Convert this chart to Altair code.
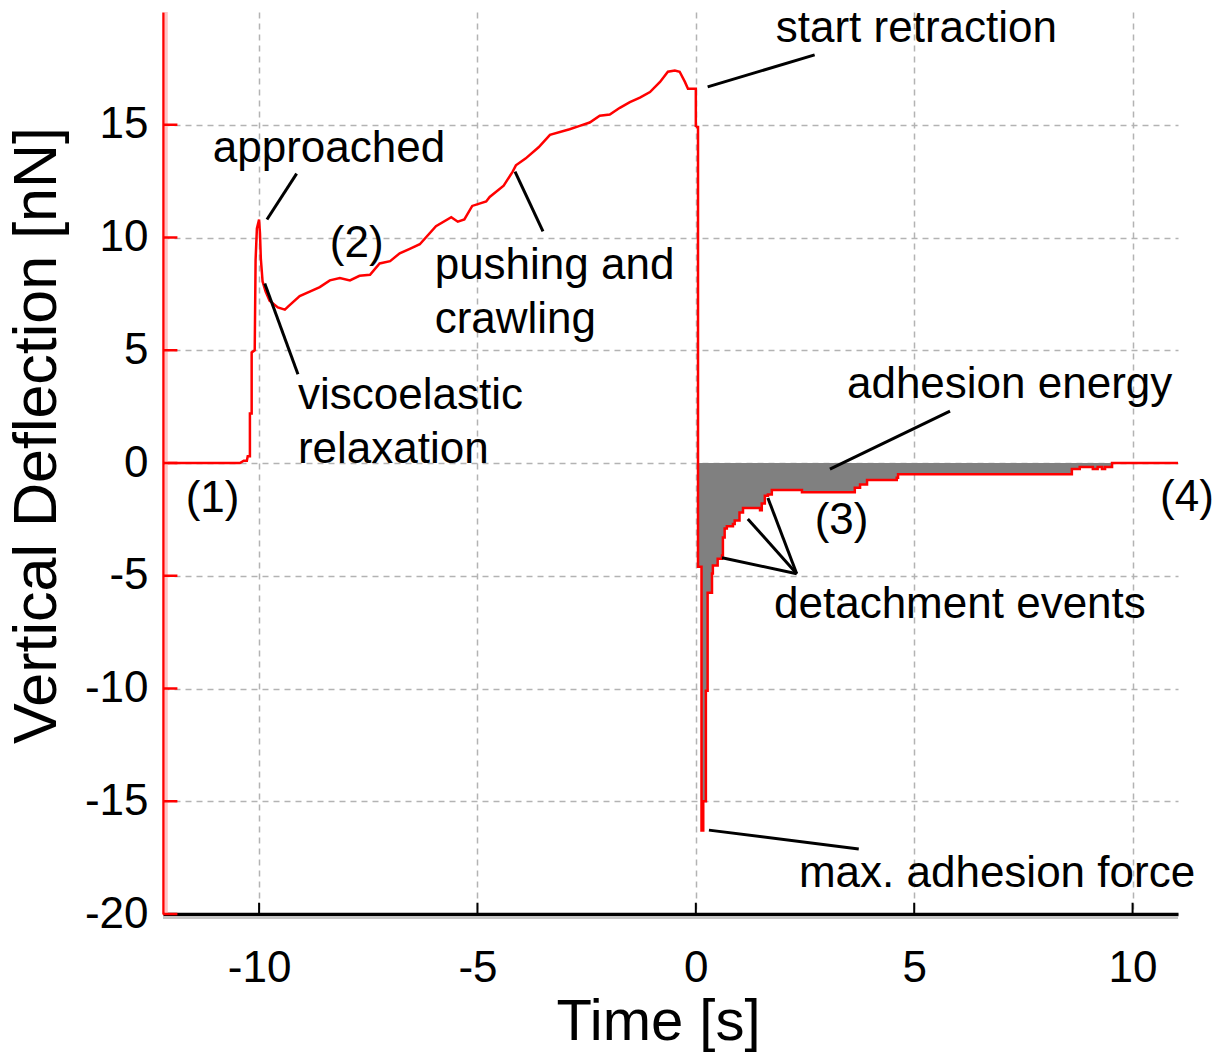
import altair as alt
import pandas as pd

FONT = "Liberation Sans"

# approach / contact part of the trace (time [s], deflection [nN])
approach_t = [-12.2, -10.44, -10.35, -10.28, -10.26, -10.21, -10.21, -10.17, -10.17, -10.1,
              -10.08, -10.05, -10.0, -9.98, -9.96, -9.92, -9.85, -9.76, -9.57, -9.41,
              -9.3, -9.07, -8.84, -8.61, -8.38, -8.15, -7.92, -7.7, -7.46, -7.24,
              -7.0, -6.78, -6.55, -6.32, -5.95, -5.6, -5.45, -5.3, -5.12, -4.8,
              -4.72, -4.4, -4.2, -4.12, -3.9, -3.6, -3.34, -2.89, -2.66, -2.43,
              -2.2, -1.97, -1.74, -1.51, -1.28, -1.05, -0.82, -0.64, -0.48, -0.37,
              -0.25, -0.18, -0.02, 0.0, 0.0]
approach_f = [0.0, 0.0, 0.1, 0.1, 0.3, 0.3, 2.2, 2.2, 4.9, 5.0,
              9.0, 10.4, 10.8, 10.2, 9.07, 8.05, 7.6, 7.2, 6.9, 6.8,
              7.0, 7.4, 7.6, 7.8, 8.1, 8.2, 8.1, 8.3, 8.35, 8.85,
              8.95, 9.3, 9.5, 9.7, 10.5, 10.9, 10.7, 10.8, 11.4, 11.6,
              11.8, 12.3, 12.9, 13.2, 13.5, 14.0, 14.55, 14.8, 14.95, 15.1,
              15.4, 15.45, 15.75, 16.0, 16.2, 16.45, 16.9, 17.35, 17.4, 17.35,
              16.9, 16.6, 16.6, 16.6, 14.9]

# retraction part (step-wise)
retract_t = [0.0, 0.05, 0.13, 0.17, 0.23, 0.27, 0.37, 0.39, 0.5, 0.6,
             0.62, 0.66, 0.71, 0.85, 0.89, 1.0, 1.08, 1.47, 1.51, 1.58,
             1.65, 1.74, 2.43, 3.64, 3.76, 3.92, 4.6, 4.63, 8.61, 8.79,
             9.09, 9.2, 9.3, 9.37, 9.53, 11.04]
retract_f = [14.9, -4.6, -16.3, -15.0, -10.1, -5.75, -4.9, -4.55, -4.25, -4.1,
             -3.3, -2.9, -2.8, -2.7, -2.55, -2.2, -2.0, -2.1, -1.8, -1.45,
             -1.4, -1.2, -1.3, -1.1, -0.95, -0.75, -0.65, -0.5, -0.27, -0.18,
             -0.27, -0.18, -0.27, -0.18, 0.0, 0.0]

x_ticks = [-10, -5, 0, 5, 10]
y_ticks = [-20, -15, -10, -5, 0, 5, 10, 15]

ann_labels = ["approached", "(2)", "pushing and", "crawling", "viscoelastic", "relaxation",
              "(1)", "start retraction", "adhesion energy", "(3)", "(4)",
              "detachment events", "max. adhesion force"]
ann_t = [-11.06, -8.38, -5.98, -5.98, -9.11, -9.11, -11.68, 1.83, 3.46, 2.72, 10.63, 1.79, 2.36]
ann_f = [13.36, 9.12, 8.14, 5.75, 2.39, 0.0, -2.17, 18.67, 2.88, -3.14, -2.12, -6.86, -18.8]

ptr_t1 = [-9.82, -9.87, -4.14, 0.27, 3.07, 2.31, 2.31, 2.31, 0.3]
ptr_f1 = [10.8, 7.96, 12.92, 16.68, -0.27, -4.91, -4.91, -4.91, -16.28]
ptr_t2 = [-9.14, -9.11, -3.5, 2.72, 5.82, 0.6, 1.19, 1.65, 3.73]
ptr_f2 = [12.83, 3.94, 10.27, 18.1, 2.3, -4.2, -2.48, -1.55, -17.12]

X_MIN, X_MAX = -12.2, 11.04
Y_MIN, Y_MAX = -20.0, 20.0

approach = pd.DataFrame({"t": approach_t, "f": approach_f, "i": range(len(approach_t))})
retract = pd.DataFrame({"t": retract_t, "f": retract_f, "i": range(len(retract_t))})
fill = pd.DataFrame({"t": retract_t[1:], "f": retract_f[1:],
                     "base": [0.0] * (len(retract_t) - 1)})
ann = pd.DataFrame({"t": ann_t, "f": ann_f, "label": ann_labels})
ptr = pd.DataFrame({"t1": ptr_t1, "f1": ptr_f1, "t2": ptr_t2, "f2": ptr_f2})
# inward tick marks (drawn inside the plot frame)
xtick_df = pd.DataFrame({"t": x_ticks, "f1": [Y_MIN] * len(x_ticks),
                         "f2": [Y_MIN + 0.5] * len(x_ticks)})
ytick_df = pd.DataFrame({"f": y_ticks, "t1": [X_MIN] * len(y_ticks),
                         "t2": [X_MIN + 0.33] * len(y_ticks)})
# soft shadows along the axis lines
xshadow = pd.DataFrame({"t1": [X_MIN], "t2": [X_MAX], "f": [Y_MIN - 0.16]})
yshadow = pd.DataFrame({"t": [X_MIN + 0.075], "f1": [Y_MIN], "f2": [Y_MAX]})

xscale = alt.Scale(domain=[X_MIN, X_MAX], nice=False, zero=False)
yscale = alt.Scale(domain=[Y_MIN, Y_MAX], nice=False, zero=False)

xaxis = alt.Axis(values=x_ticks, title="Time [s]", labelExpr="'' + datum.value",
                 domainColor="black", domainWidth=3.5, ticks=False, tickSize=0,
                 labelFont=FONT, labelFontSize=44, labelColor="black", labelPadding=32,
                 titleFont=FONT, titleFontSize=58, titleFontWeight="normal", titleColor="black",
                 titleX=495, titleY=125, titleBaseline="alphabetic", titleAlign="center",
                 grid=True, gridColor="#b3b3b3", gridDash=[6, 5], gridWidth=1.5)
yaxis = alt.Axis(values=y_ticks, title="Vertical Deflection [nN]", labelExpr="'' + datum.value",
                 domainColor="red", domainWidth=2.5, ticks=False, tickSize=0,
                 labelFont=FONT, labelFontSize=44, labelColor="black", labelPadding=15,
                 titleFont=FONT, titleFontSize=61, titleFontWeight="normal", titleColor="black",
                 titleAngle=270, titleX=-108, titleY=423, titleBaseline="alphabetic",
                 titleAlign="center",
                 grid=True, gridColor="#b3b3b3", gridDash=[6, 5], gridWidth=1.5)

area = alt.Chart(fill).mark_area(interpolate="step-after", color="#808080").encode(
    x=alt.X("t:Q", scale=xscale, axis=xaxis),
    y=alt.Y("f:Q", scale=yscale, axis=yaxis),
    y2="base:Q")

line_app = alt.Chart(approach).mark_line(color="#ff0000", strokeWidth=2.5).encode(
    x="t:Q", y="f:Q", order="i:Q")
line_ret = alt.Chart(retract).mark_line(color="#ff0000", strokeWidth=2.5,
                                        interpolate="step-after").encode(
    x="t:Q", y="f:Q", order="i:Q")

pointers = alt.Chart(ptr).mark_rule(color="black", strokeWidth=3).encode(
    x="t1:Q", y="f1:Q", x2="t2:Q", y2="f2:Q")

texts = alt.Chart(ann).mark_text(align="left", baseline="alphabetic", font=FONT,
                                 fontSize=44, color="black").encode(
    x="t:Q", y="f:Q", text="label:N")

xt = alt.Chart(xtick_df).mark_rule(color="black", strokeWidth=2).encode(
    x="t:Q", y="f1:Q", y2="f2:Q")
yt = alt.Chart(ytick_df).mark_rule(color="#ff0000", strokeWidth=2.5).encode(
    y="f:Q", x="t1:Q", x2="t2:Q")

xs = alt.Chart(xshadow).mark_rule(color="#c4c4c4", strokeWidth=3).encode(
    x="t1:Q", x2="t2:Q", y="f:Q")
ys = alt.Chart(yshadow).mark_rule(color="#ffc4c4", strokeWidth=3).encode(
    x="t:Q", y="f1:Q", y2="f2:Q")

chart = alt.layer(area, line_app, line_ret, pointers, texts, xs, ys, xt, yt).properties(
    width=1015, height=902,
    autosize=alt.AutoSizeParams(type="none"),
    padding={"left": 163, "top": 12, "right": 37, "bottom": 139},
    background="white",
).configure_view(stroke=None)

chart.save("out.html", embed_options={"renderer": "svg", "actions": False})
